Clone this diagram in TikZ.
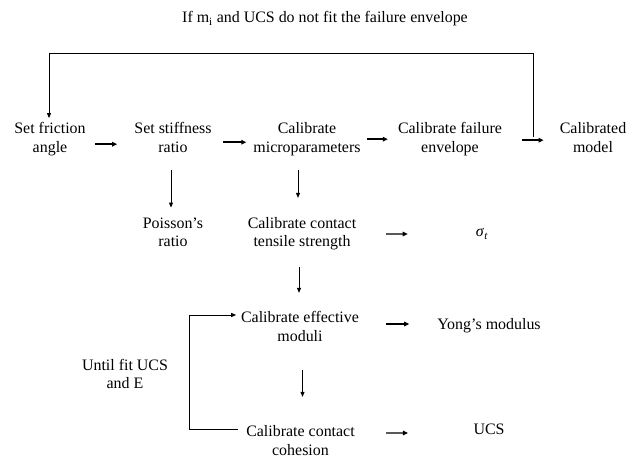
\documentclass[tikz,border=0pt]{standalone}
\usepackage{fontspec}
\setmainfont{Liberation Serif}
\usetikzlibrary{arrows.meta}
\begin{document}
\begin{tikzpicture}[x=1bp,y=-1bp,
  lbl/.style={inner sep=0pt, align=center, font=\fontsize{16}{19}\selectfont},
  harr/.style={line width=1.4bp, -{Triangle[length=5bp,width=4.5bp]}},
  varr/.style={line width=0.9bp, -{Triangle[length=5bp,width=4bp]}},
  loopline/.style={line width=0.9bp}]
\useasboundingbox (0,0) rectangle (640,458);
\node[lbl] (title) at (325,19) {\strut If m\textsubscript{i} and UCS do not fit the failure envelope};
\node[lbl] (fa) at (50,139.2) {\strut Set friction\\\strut angle};
\node[lbl] (sr) at (173,139.2) {\strut Set stiffness\\\strut ratio};
\node[lbl] (cm) at (307,139.2) {\strut Calibrate\\\strut microparameters};
\node[lbl] (cf) at (450,139.2) {\strut Calibrate failure\\\strut envelope};
\node[lbl] (cal) at (593,139.2) {\strut Calibrated\\\strut model};
\node[lbl] (pr) at (173,233.7) {\strut Poisson’s\\\strut ratio};
\node[lbl] (ct) at (302,233.7) {\strut Calibrate contact\\\strut tensile strength};
\node[lbl] (sig) at (482,233) {\strut\textit{σ}\textsubscript{\textit{t}}};
\node[lbl] (em) at (300,328.2) {\strut Calibrate effective\\\strut moduli};
\node[lbl] (ym) at (489,325.5) {\strut Yong’s modulus};
\node[lbl] (cc) at (300.5,442.4) {\strut Calibrate contact\\\strut cohesion};
\node[lbl] (ucs) at (489,430.5) {\strut UCS};
\node[lbl] (until) at (125,375.7) {\strut Until fit UCS\\\strut and E};
% main row
\draw[harr] ([shift={(9,5)}]fa.east) -- ([shift={(-17,5)}]sr.west);
\draw[harr] ([shift={(11,3)}]sr.east) -- ([shift={(-7,3)}]cm.west);
\draw[harr] ([shift={(6,0)}]cm.east) -- ([shift={(-10,0)}]cf.west);
\draw[harr] ([shift={(20,1)}]cf.east) -- ([shift={(-16,1)}]cal.west);
% outer loop
\coordinate (lp) at ([shift={(31,-2)}]cf.east);
\draw[varr] (lp) -- ++(0,-84) -| ([shift={(-1,-2)}]fa.north);
% vertical arrows
\draw[varr] ([shift={(-2,12)}]sr.south) -- ([shift={(-2,-7)}]pr.north);
\draw[varr] ([shift={(-9,12)}]cm.south) -- ([shift={(-4,-16.7)}]ct.north);
\draw[varr] ([shift={(-3,14.3)}]ct.south) -- ([shift={(-1,-16.2)}]em.north);
\draw[varr] ([shift={(2.5,22.8)}]em.south) -- ([shift={(2,-26.4)}]cc.north);
% results
\draw[harr] ([shift={(29.6,0.3)}]ct.east) -- ([shift={(-68,1)}]sig.west);
\draw[harr] ([shift={(26.7,-4.2)}]em.east) -- ([shift={(-27.9,-1.5)}]ym.west);
\draw[harr] ([shift={(31.1,-9.4)}]cc.east) -- ([shift={(-65.4,2.5)}]ucs.west);
% inner loop
\draw[varr] ([shift={(-8,-13.4)}]cc.west) -- ++(-49,0) -- ++(0,-114) -- ([shift={(-4.7,-13.2)}]em.west);
\end{tikzpicture}
\end{document}
